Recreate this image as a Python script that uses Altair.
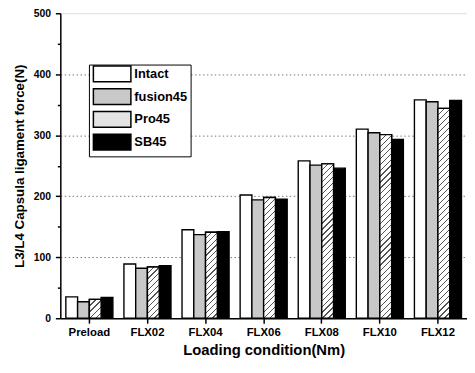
import altair as alt

conditions = ["Preload", "FLX02", "FLX04", "FLX06", "FLX08", "FLX10", "FLX12"]
series = ["Intact", "fusion45", "Pro45", "SB45"]
intact = [35, 89, 145, 202, 258, 310, 358]
fusion45 = [27, 82, 137, 194, 251, 304, 355]
pro45 = [31, 84, 141, 198, 253, 301, 344]
sb45 = [34, 86, 142, 195, 246, 293, 357]
y_ticks = list(range(0, 501, 50))

FONT = "Liberation Sans"
PLOT_W, PLOT_H = 412, 309
PAD_IN, PAD_OUT = 0.19, 0.095
Y_MAX = 500


def hatch(w, h, period, dark, frac, light="white"):
    """Diagonal '////' hatch as a linear gradient in the bar's bounding box."""
    s = (w + h) / (w * w + h * h)
    n = max(1, int(round((w + h) / period)))
    stops = []
    for k in range(n):
        a = k / n
        b = (k + frac) / n
        c = (k + 1) / n
        stops += [
            {"offset": a, "color": dark},
            {"offset": b, "color": dark},
            {"offset": b, "color": light},
            {"offset": c, "color": light},
        ]
    return {"gradient": "linear", "x1": 0, "y1": 0, "x2": s * w, "y2": s * h, "stops": stops}


step = PLOT_W / (len(conditions) - PAD_IN + 2 * PAD_OUT)
bar_w = step * (1 - PAD_IN) / len(series)

values_by_series = {"Intact": intact, "fusion45": fusion45, "Pro45": pro45, "SB45": sb45}
rows = []
for s in series:
    for c, v in zip(conditions, values_by_series[s]):
        row = {"cond": c, "series": s, "value": v}
        if s == "Pro45":
            row["paint"] = hatch(bar_w, v * PLOT_H / Y_MAX, 6, "#555555", 0.22)
        rows.append(row)

data = alt.Data(values=rows)

x_enc = alt.X(
    "cond:N",
    sort=conditions,
    scale=alt.Scale(domain=conditions, paddingInner=PAD_IN, paddingOuter=PAD_OUT),
    axis=alt.Axis(
        title="Loading condition(Nm)",
        labelAngle=0,
        labelFont=FONT,
        labelFontSize=11.5,
        labelFontWeight="bold",
        labelColor="black",
        labelPadding=3,
        titleFont=FONT,
        titleFontSize=15,
        titleFontWeight="bold",
        titleColor="black",
        titlePadding=5,
        domainColor="black",
        domainWidth=1.5,
        tickColor="black",
        tickWidth=1.5,
        tickSize=5,
        grid=False,
    ),
)

y_enc = alt.Y(
    "value:Q",
    scale=alt.Scale(domain=[0, Y_MAX], nice=False),
    axis=alt.Axis(
        title="L3/L4 Capsula ligament force(N)",
        values=y_ticks,
        labelExpr="datum.value % 100 === 0 ? datum.label : ''",
        tickSize={"condition": {"test": "datum.value % 100 === 0", "value": 5}, "value": 3},
        grid=True,
        gridOpacity={
            "condition": {
                "test": "datum.value % 100 === 0 && datum.value > 0 && datum.value < 500",
                "value": 1,
            },
            "value": 0,
        },
        gridDash=[1.5, 2.5],
        gridColor="#777777",
        gridWidth=1,
        labelFont=FONT,
        labelFontSize=10.5,
        labelFontWeight="bold",
        labelColor="black",
        labelPadding=5,
        titleFont=FONT,
        titleFontSize=13.5,
        titleFontWeight="bold",
        titleColor="black",
        titlePadding=7,
        domainColor="black",
        domainWidth=1.5,
        tickColor="black",
        tickWidth=1.5,
    ),
)

xoff = alt.XOffset("series:N", sort=series, scale=alt.Scale(domain=series))

base = alt.Chart(data).encode(x=x_enc, y=y_enc, xOffset=xoff)

bars = base.mark_bar(stroke="black", strokeWidth=1.4, cornerRadius=0).encode(
    color=alt.Color(
        "series:N",
        sort=series,
        scale=alt.Scale(domain=series, range=["white", "#c8c8c8", "#e4e4e4", "black"]),
        legend=alt.Legend(
            orient="none",
            legendX=29,
            legendY=52,
            title=None,
            symbolType="M-3.8,-1.6H3.8V1.6H-3.8Z",
            symbolSize=100,
            symbolOffset=14,
            symbolStrokeColor="black",
            symbolStrokeWidth=1.5,
            symbolOpacity=1,
            labelFont=FONT,
            labelFontSize=13,
            labelFontWeight="bold",
            labelColor="black",
            labelOffset=16,
            padding=3,
            rowPadding=0,
            strokeColor="black",
            fillColor="white",
        ),
    )
)

hatched = (
    base.transform_filter(alt.datum.series == "Pro45")
    .mark_bar(stroke="black", strokeWidth=1.4)
    .encode(fill=alt.Fill("paint:N", scale=None))
)

chart = (
    alt.layer(bars, hatched)
    .properties(
        width=PLOT_W,
        height=PLOT_H,
        autosize=alt.AutoSizeParams(type="none"),
        padding={"left": 53, "top": 3, "right": 0, "bottom": 40},
    )
    .configure_view(stroke=None)
    .configure(background="white")
)

chart.save("out.html", embed_options={"renderer": "svg", "actions": False})
